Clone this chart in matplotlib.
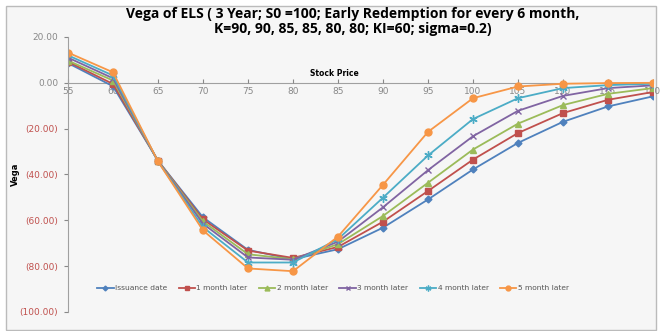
import matplotlib
matplotlib.use("Agg")
import matplotlib.pyplot as plt
from matplotlib.patches import Rectangle
from matplotlib.ticker import FuncFormatter

# data
prices = [55, 60, 65, 70, 75, 80, 85, 90, 95, 100, 105, 110, 115, 120]
issuance = [8.6, -1.5, -34.0, -58.7, -72.9, -77.0, -72.6, -63.2, -50.9, -37.8, -26.2, -17.0, -10.3, -5.9]
month1 = [9.2, -0.5, -34.0, -59.6, -73.2, -76.4, -71.6, -60.6, -47.2, -33.5, -21.9, -13.2, -7.4, -4.0]
month2 = [9.7, 1.0, -34.1, -60.5, -74.8, -77.0, -70.4, -58.1, -43.6, -29.1, -17.8, -9.7, -4.8, -2.3]
month3 = [11.0, 2.0, -34.2, -61.5, -76.2, -77.2, -69.3, -54.3, -38.1, -23.3, -12.2, -5.7, -2.3, -1.1]
month4 = [12.0, 3.2, -34.3, -63.0, -78.4, -78.4, -68.2, -50.1, -31.7, -15.8, -6.7, -2.3, -1.0, -0.4]
month5 = [13.2, 4.6, -34.3, -64.4, -81.0, -82.2, -67.1, -44.5, -21.4, -6.7, -1.6, -0.4, -0.1, 0.0]

series = [
    ("Issuance date", issuance, "#4F81BD", "D", 3.5),
    ("1 month later", month1, "#C0504D", "s", 5),
    ("2 month later", month2, "#9BBB59", "^", 5),
    ("3 month later", month3, "#8064A2", "x", 5),
    ("4 month later", month4, "#4BACC6", (6, 2, 0), 6),
    ("5 month later", month5, "#F79646", "o", 5),
]

bg = "#F6F6F6"
fig = plt.figure(figsize=(6.6, 3.31), dpi=100, facecolor="white")
fig.patches.append(Rectangle((6 / 660, 1 / 331), 650 / 660, 324 / 331, transform=fig.transFigure,
                             facecolor=bg, edgecolor="#BBBBBB", linewidth=1, zorder=-1))

ax = fig.add_axes([68 / 660, 1 - 312 / 331, 585 / 660, 275 / 331])
ax.set_facecolor(bg)

for name, vals, col, mk, ms in series:
    ax.plot(prices, vals, color=col, marker=mk, markersize=ms, linewidth=1.3, label=name,
            markeredgewidth=1)

ax.set_xlim(55, 120)
ax.set_ylim(-100, 20)
ax.set_xticks(prices)
ax.set_yticks([20, 0, -20, -40, -60, -80, -100])

def fmt(v, pos):
    return "%.2f" % v if v >= 0 else "(%.2f)" % abs(v)

ax.yaxis.set_major_formatter(FuncFormatter(fmt))
ax.tick_params(axis="y", labelsize=6.5, colors="#888888", length=3, width=0.8, pad=4)
ax.tick_params(axis="x", labelsize=6.5, colors="#888888", length=3, width=0.8, direction="in", pad=3)
fig.canvas.draw()
for lab in ax.get_yticklabels():
    if lab.get_text().startswith("("):
        lab.set_color("#C0504D")

for s in ["top", "right"]:
    ax.spines[s].set_visible(False)
ax.spines["left"].set_color("#A0A0A0")
ax.spines["bottom"].set_position(("data", 0))
ax.spines["bottom"].set_color("#A0A0A0")
ax.spines["bottom"].set_zorder(0)

ax.set_ylabel("Vega", fontsize=6, fontweight="bold")
ax.yaxis.set_label_coords(-48 / 585, 0.5)
ax.text(0.455, 0.868, "Stock Price", transform=ax.transAxes, ha="center", va="center",
        fontsize=5.5, fontweight="bold")

fig.text(0.535, 0.935, "Vega of ELS ( 3 Year; S0 =100; Early Redemption for every 6 month,\n"
         "K=90, 90, 85, 85, 80, 80; KI=60; sigma=0.2)", ha="center", va="center",
         fontsize=10, fontweight="bold", family="Open Sans", linespacing=1.15)

ax.legend(loc="center left", bbox_to_anchor=(26 / 585, 0.087), ncol=6, frameon=False, fontsize=5.4,
          handlelength=2.2, columnspacing=1.5, handletextpad=0.2, labelcolor="#555555",
          markerscale=0.7, borderaxespad=0)

fig.savefig("out.png", dpi=100, facecolor="white")
